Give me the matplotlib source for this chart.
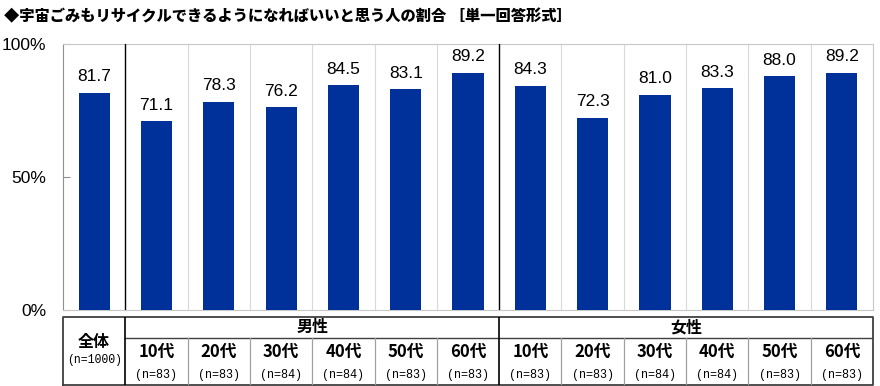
import matplotlib
matplotlib.use('Agg')
from matplotlib import pyplot as plt

plt.rcParams['font.family'] = ['Noto Sans CJK JP', 'DejaVu Sans']

title = '◆宇宙ごみもリサイクルできるようになればいいと思う人の割合 ［単一回答形式］'
ages = ['全体', '10代', '20代', '30代', '40代', '50代', '60代',
        '10代', '20代', '30代', '40代', '50代', '60代']
counts = ['(n=1000)', '(n=83)', '(n=83)', '(n=84)', '(n=84)', '(n=83)', '(n=83)',
          '(n=83)', '(n=83)', '(n=84)', '(n=84)', '(n=83)', '(n=83)']
values = [81.7, 71.1, 78.3, 76.2, 84.5, 83.1, 89.2,
          84.3, 72.3, 81.0, 83.3, 88.0, 89.2]
groups = ['男性', '女性']
yticks = [0, 50, 100]

W, H = 880, 386
fig = plt.figure(figsize=(W / 100, H / 100), dpi=100)
fig.text(4 / W, 1 - 17 / H, title, fontsize=11, fontweight='black', va='center', ha='left')

bar_color = '#00319A'
grid_color = '#d9d9d9'
x = list(range(len(values)))

ax = fig.add_axes([63 / W, (H - 310) / H, 810 / W, 266 / H])
ax.bar(x, values, width=0.5, color=bar_color, zorder=3)
for xi, v in zip(x, values):
    ax.annotate(f'{v:.1f}', (xi, v), xytext=(0, 6), textcoords='offset points',
                ha='center', va='bottom', fontsize=12.5, family='Liberation Sans')
ax.set_xlim(-0.5, len(values) - 0.5)
ax.set_ylim(0, 100)
ax.set_xticks([])
ax.set_yticks(yticks)
ax.set_yticklabels([f'{t}%' for t in yticks], family='Liberation Sans', fontsize=12.5)
ax.tick_params(axis='y', direction='in', length=5, color='#909090', pad=12)
for s in ax.spines.values():
    s.set_color('#c8c8c8')
    s.set_linewidth(0.8)
ax.spines['left'].set_color('#909090')
for k in range(1, len(values)):
    if k in (1, 7):
        ax.axvline(k - 0.5, color='black', lw=1.0, zorder=4)
    else:
        ax.axvline(k - 0.5, color=grid_color, lw=0.8, zorder=1)

# table below chart
tab = fig.add_axes([63 / W, 1 / H, 810 / W, 68 / H])
tab.set_xlim(-0.5, len(values) - 0.5)
tab.set_ylim(0, 68)
tab.axis('off')
dark = '#404040'
row_y = 68 - 21
tab.plot([-0.5, 12.5, 12.5, -0.5, -0.5], [0, 0, 68, 68, 0], color=dark, lw=1.3, clip_on=False)
tab.plot([0.5, 12.5], [row_y, row_y], color=dark, lw=1.0)
for k in range(1, len(values)):
    if k in (1, 7):
        tab.plot([k - 0.5, k - 0.5], [0, 68], color='black', lw=1.2)
    else:
        tab.plot([k - 0.5, k - 0.5], [0, row_y], color='#a0a0a0', lw=0.9)

tab.text(0, 68 - 25, ages[0], ha='center', va='center', fontsize=11.5, fontweight='bold')
tab.text(0, 68 - 43, counts[0], ha='center', va='center', fontsize=8.3, family='Liberation Mono')
tab.text(3.5, 68 - 10, groups[0], ha='center', va='center', fontsize=11.5, fontweight='bold')
tab.text(9.5, 68 - 10, groups[1], ha='center', va='center', fontsize=11.5, fontweight='bold')
for xi in x[1:]:
    tab.text(xi, 68 - 35, ages[xi], ha='center', va='center', fontsize=12, fontweight='bold')
    tab.text(xi, 68 - 58, counts[xi], ha='center', va='center', fontsize=8.5,
             family='Liberation Mono')

fig.savefig('out.png', dpi=100)
